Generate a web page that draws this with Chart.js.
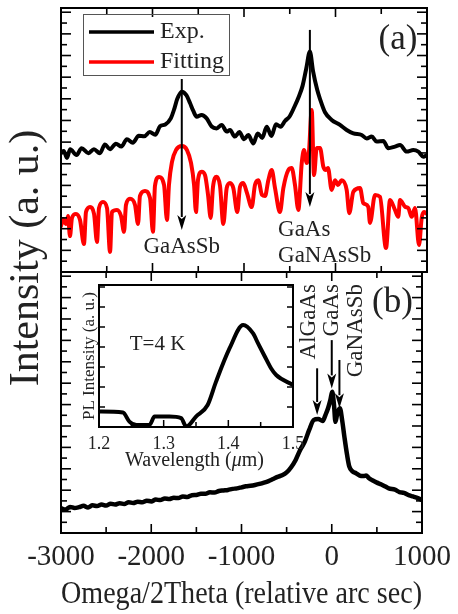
<!DOCTYPE html>
<html><head><meta charset="utf-8">
<script src="https://cdn.jsdelivr.net/npm/chart.js@4.4.0/dist/chart.umd.min.js"></script>
<style>
html,body{margin:0;padding:0;background:#fff;}
#wrap{position:relative;width:458px;height:614px;overflow:hidden;background:#fff;}
canvas{position:absolute;left:0;top:0;}
</style></head><body>
<div id="wrap">
<canvas id="ca" width="458" height="614"></canvas>
<canvas id="cb" width="458" height="614"></canvas>
<canvas id="ci" width="458" height="614"></canvas>
</div>
<script>
// ---------- data ----------
const xTickValues = [-3000, -2000, -1000, 0, 1000];
const insetTickValues = [1.2, 1.3, 1.4, 1.5];
const xTitle = 'Omega/2Theta (relative arc sec)';
const yTitle = 'Intensity (a. u.)';
const insetYTitle = 'PL Intensity (a. u.)';
const seriesLabels = ['Exp.', 'Fitting'];

// panel (a): experimental (black)
const aExp = [[-3000,45.0],[-2970,45.8],[-2935,43.2],[-2900,46.5],[-2830,44.3],[-2775,46.9],[-2700,45.0],[-2640,46.5],[-2575,45.0],[-2520,48.3],[-2464,46.5],[-2400,48.6],[-2340,47.5],[-2280,50.3],[-2215,49.0],[-2150,51.6],[-2090,51.4],[-2030,53.0],[-1970,52.0],[-1918,55.2],[-1860,55.9],[-1800,58.2],[-1760,62.0],[-1730,65.5],[-1681,68.3],[-1630,67.0],[-1590,64.0],[-1554,61.0],[-1517,58.8],[-1463,59.5],[-1408,58.2],[-1353,55.1],[-1299,54.4],[-1244,55.7],[-1189,53.2],[-1153,53.8],[-1100,51.3],[-1050,53.0],[-1000,50.3],[-953,51.9],[-898,48.7],[-850,52.5],[-800,50.8],[-752,55.0],[-700,51.5],[-650,56.0],[-600,55.0],[-552,57.2],[-500,59.0],[-450,62.5],[-400,66.5],[-360,70.5],[-320,77.0],[-280,83.5],[-245,76.0],[-200,69.0],[-169,65.5],[-115,60.5],[-42,57.6],[49,55.7],[122,53.8],[195,52.5],[286,51.9],[341,50.6],[396,51.3],[450,49.4],[523,49.6],[577,46.9],[650,47.5],[705,48.1],[778,45.6],[851,46.2],[905,45.6],[960,43.7],[1000,44.3]];

// panel (a): fitting (red)
const aFit = [[-3000,17.4],[-2978,20.1],[-2945,18.2],[-2923,21.2],[-2902,13.6],[-2880,20.5],[-2836,22.0],[-2792,19.7],[-2749,10.6],[-2727,22.7],[-2683,24.6],[-2639,22.0],[-2607,11.4],[-2585,24.2],[-2541,26.5],[-2497,24.2],[-2464,7.6],[-2443,22.7],[-2388,23.5],[-2344,21.2],[-2311,15.2],[-2290,25.4],[-2246,27.7],[-2191,25.4],[-2158,18.2],[-2137,28.8],[-2082,30.7],[-2027,28.0],[-1995,15.2],[-1973,32.6],[-1929,36.0],[-1874,33.0],[-1842,19.7],[-1820,33.0],[-1787,41.7],[-1743,46.2],[-1678,47.7],[-1623,46.2],[-1579,41.3],[-1546,33.0],[-1525,22.7],[-1503,34.8],[-1462,38.0],[-1426,36.7],[-1393,29.2],[-1364,20.5],[-1339,32.2],[-1298,36.1],[-1262,32.6],[-1226,18.2],[-1189,31.8],[-1153,33.7],[-1117,31.8],[-1073,22.7],[-1044,32.2],[-1008,33.7],[-967,29.9],[-916,24.6],[-880,33.0],[-844,34.8],[-803,29.2],[-770,28.8],[-734,34.8],[-697,38.6],[-661,31.8],[-607,22.7],[-570,31.8],[-516,38.6],[-479,39.4],[-443,33.0],[-406,23.5],[-369,41.3],[-344,46.2],[-315,41.3],[-290,45.5],[-260,61.4],[-235,36.7],[-205,47.0],[-169,47.0],[-133,39.9],[-104,38.6],[-82,39.4],[-42,31.1],[-5,34.8],[27,33.0],[68,34.8],[122,31.1],[151,22.3],[195,30.4],[268,31.8],[304,26.1],[358,24.7],[377,18.6],[432,29.2],[486,28.5],[552,9.1],[596,27.3],[650,23.5],[686,20.9],[705,27.3],[760,24.7],[796,24.2],[833,20.9],[869,24.2],[913,10.2],[942,20.5],[967,22.7],[1000,22.0]];

// panel (b): XRD
const bXrd = [[-3000,9.5],[-2950,9.0],[-2900,10.0],[-2850,9.6],[-2800,9.9],[-2750,10.4],[-2700,9.8],[-2650,10.6],[-2600,10.3],[-2550,10.9],[-2500,10.5],[-2450,11.2],[-2400,10.9],[-2350,11.4],[-2300,11.1],[-2250,11.8],[-2200,11.5],[-2150,12.0],[-2100,11.8],[-2050,12.4],[-2000,12.1],[-1950,12.8],[-1900,12.6],[-1850,13.2],[-1800,13.0],[-1750,13.5],[-1700,13.4],[-1650,14.0],[-1600,13.8],[-1550,14.5],[-1500,14.6],[-1450,15.0],[-1400,15.0],[-1350,15.6],[-1300,15.5],[-1250,16.1],[-1200,16.3],[-1150,16.5],[-1100,16.9],[-1050,17.1],[-1000,17.5],[-950,17.9],[-900,18.1],[-850,18.4],[-800,18.8],[-750,19.3],[-700,19.9],[-650,20.7],[-600,21.5],[-550,22.1],[-500,23.2],[-450,25.2],[-400,28.0],[-350,31.8],[-300,34.9],[-250,39.5],[-200,43.3],[-150,43.7],[-100,42.9],[-70,45.2],[-40,47.9],[-15,51.0],[5,54.1],[25,49.0],[41,42.6],[60,45.6],[90,47.8],[115,43.3],[140,36.9],[170,29.9],[195,25.4],[230,23.6],[268,22.9],[310,22.0],[350,21.8],[380,22.0],[413,21.0],[450,20.2],[500,19.3],[550,18.6],[600,17.7],[632,17.1],[700,16.6],[750,15.7],[800,15.4],[860,14.4],[900,14.0],[960,13.3],[1000,12.6]];

// inset: PL spectrum
const insetPL = [[1.200,0.77],[1.237,0.72],[1.247,0.27],[1.258,0.10],[1.278,0.10],[1.286,0.52],[1.309,0.52],[1.327,0.44],[1.335,0.02],[1.350,0.52],[1.368,1.10],[1.381,2.27],[1.402,3.94],[1.423,5.10],[1.438,4.69],[1.446,4.18],[1.456,3.55],[1.466,2.94],[1.474,2.60],[1.500,2.10]];

// annotations (data coordinates)
const arrowsA = [{x:-1680, from:73.1, to:15.9}, {x:-280, from:91.7, to:24.6}];
const labelsA = [
  {text:'GaAsSb', x:-1680, y:9.5, align:'center', size:23},
  {text:'GaAs', x:-628, y:16.1, align:'left', size:23},
  {text:'GaNAsSb', x:-628, y:6.2, align:'left', size:23},
  {text:'(a)', x:683, y:87.9, align:'center', size:35}
];
const arrowsB = [{x:-162, from:63.1, to:45.2}, {x:0, from:73.9, to:55.4}, {x:85, from:66.3, to:47.8}];
const vLabelsB = [{text:'AlGaAs', x:-257, y:95.4}, {text:'GaAs', x:5, y:95.4}, {text:'GaNAsSb', x:268, y:95.4}];
const labelsB = [{text:'(b)', x:672, y:88.1, align:'center', size:35}];
const insetLabel = {text:'T=4 K', x:1.2475, y:4.15};

// ---------- helpers ----------
const FONT = "'Liberation Serif','Times New Roman',serif";
const TXT = '#222';
const pts = arr => arr.map(p => ({x:p[0], y:p[1]}));

function line(ctx,x1,y1,x2,y2){ctx.beginPath();ctx.moveTo(x1,y1);ctx.lineTo(x2,y2);ctx.stroke();}
function arrow(ctx,x,y1,y2){
  const hl=15, hw=9;
  ctx.lineWidth=2; line(ctx,x,y1,x,y2-hl+2);
  ctx.beginPath(); ctx.moveTo(x-hw/2,y2-hl); ctx.lineTo(x,y2-hl+4); ctx.lineTo(x+hw/2,y2-hl); ctx.lineTo(x,y2); ctx.closePath(); ctx.fill();
}
function framePlugin(id,o){
  return {id, afterDatasetsDraw(chart){
    const {ctx, chartArea:a, scales} = chart; const x=scales.x, y=scales.y;
    ctx.save(); ctx.strokeStyle='#000'; ctx.lineWidth=o.tickW;
    const xs=[];
    o.xMajor.forEach((v,i)=>{ xs.push([v,true]); if(i<o.xMajor.length-1) xs.push([(v+o.xMajor[i+1])/2,false]); });
    xs.forEach(([v,maj])=>{ const px=x.getPixelForValue(v); const L=maj?o.xMajLen:o.xMinLen;
      if(o.bottom) line(ctx,px,a.bottom,px,a.bottom-L);
      if(o.top) line(ctx,px,a.top,px,a.top+L); });
    for(let i=0;;i++){ const v=y.min+i*o.yStep; if(v>y.max+1e-9) break;
      const py=y.getPixelForValue(v); const L=(i%2===0)?o.yMajLen:o.yMinLen;
      line(ctx,a.left,py,a.left+L,py); if(o.right) line(ctx,a.right,py,a.right-L,py); }
    ctx.lineWidth=o.frameW; ctx.strokeRect(a.left,a.top,a.right-a.left,a.bottom-a.top);
    ctx.restore();
  }};
}
const mainFrameOpts = {xMajor:xTickValues, xMajLen:9, xMinLen:6, yStep:4.1, yMajLen:10, yMinLen:6, tickW:1.6, frameW:2, top:true, bottom:true, right:true};

const annotA = {id:'annotA', afterDraw(chart){
  const {ctx, scales:{x,y}} = chart;
  ctx.save(); ctx.fillStyle='#000'; ctx.strokeStyle='#000';
  arrowsA.forEach(a=>arrow(ctx, x.getPixelForValue(a.x), y.getPixelForValue(a.from), y.getPixelForValue(a.to)));
  ctx.fillStyle=TXT; ctx.textBaseline='middle';
  labelsA.forEach(l=>{ ctx.font=l.size+'px '+FONT; ctx.textAlign=l.align; ctx.fillText(l.text, x.getPixelForValue(l.x), y.getPixelForValue(l.y)); });
  // legend
  const lg={left:83, top:14, w:146, h:61};
  ctx.strokeStyle='#555'; ctx.lineWidth=1; ctx.strokeRect(lg.left+0.5, lg.top+0.5, lg.w, lg.h);
  chart.data.datasets.forEach((ds,i)=>{
    const yy = lg.top + 18 + i*30;
    ctx.strokeStyle=ds.borderColor; ctx.lineWidth=3.5; line(ctx, lg.left+6, yy, lg.left+71, yy);
    ctx.fillStyle=TXT; ctx.font='24px '+FONT; ctx.textAlign='left'; ctx.fillText(ds.label, lg.left+77, yy);
  });
  ctx.restore();
}};

const annotB = {id:'annotB', afterDraw(chart){
  const {ctx, scales:{x,y}} = chart;
  ctx.save(); ctx.fillStyle='#000'; ctx.strokeStyle='#000';
  arrowsB.forEach(a=>arrow(ctx, x.getPixelForValue(a.x), y.getPixelForValue(a.from), y.getPixelForValue(a.to)));
  ctx.fillStyle=TXT; ctx.textBaseline='middle';
  vLabelsB.forEach(l=>{ ctx.save(); ctx.translate(x.getPixelForValue(l.x), y.getPixelForValue(l.y)); ctx.rotate(-Math.PI/2);
    ctx.font='23px '+FONT; ctx.textAlign='right'; ctx.fillText(l.text,0,0); ctx.restore(); });
  labelsB.forEach(l=>{ ctx.font=l.size+'px '+FONT; ctx.textAlign=l.align; ctx.fillText(l.text, x.getPixelForValue(l.x), y.getPixelForValue(l.y)); });
  // shared y title
  ctx.save(); ctx.translate(27, 258); ctx.rotate(-Math.PI/2); ctx.font='42px '+FONT; ctx.textAlign='center'; ctx.fillText(yTitle,0,0); ctx.restore();
  ctx.restore();
}};

const annotI = {id:'annotI', afterDraw(chart){
  const {ctx, chartArea:a, scales:{x,y}} = chart;
  ctx.save(); ctx.fillStyle=TXT; ctx.textBaseline='middle';
  ctx.font='21px '+FONT; ctx.textAlign='left';
  ctx.fillText(insetLabel.text, x.getPixelForValue(insetLabel.x), y.getPixelForValue(insetLabel.y));
  // x title with italic mu
  const parts=[['Wavelength (','20px '+FONT],['\u03bc','italic 20px '+FONT],['m)','20px '+FONT]];
  let tw=0; parts.forEach(p=>{ctx.font=p[1]; tw+=ctx.measureText(p[0]).width;});
  let cx=(a.left+a.right)/2 - tw/2 - 1.5;
  parts.forEach(p=>{ctx.font=p[1]; ctx.fillText(p[0],cx,461); cx+=ctx.measureText(p[0]).width;});
  ctx.restore();
}};

const common = {responsive:false, animation:false, events:[], devicePixelRatio:1,
  plugins:{legend:{display:false}, tooltip:{enabled:false}}};
const lineDs = (label,data,color,w) => ({label, data:pts(data), borderColor:color, borderWidth:w, pointRadius:0,
  cubicInterpolationMode:'monotone', borderJoinStyle:'round', borderCapStyle:'round', fill:false});

// ---------- panel (a) ----------
new Chart(document.getElementById('ca'), {
  type:'line',
  data:{datasets:[lineDs(seriesLabels[0], aExp, '#000000', 4), lineDs(seriesLabels[1], aFit, '#ff0000', 4)]},
  options:Object.assign({}, common, {
    layout:{padding:{left:61, right:31, top:8, bottom:342}},
    scales:{x:{type:'linear', min:-3000, max:1000, display:false}, y:{min:0, max:100, display:false}}
  }),
  plugins:[framePlugin('frameA', mainFrameOpts), annotA]
});

// ---------- panel (b) ----------
new Chart(document.getElementById('cb'), {
  type:'line',
  data:{datasets:[lineDs('XRD', bXrd, '#000000', 4.5)]},
  options:Object.assign({}, common, {
    layout:{padding:{left:61, right:31, top:272, bottom:0}},
    scales:{
      x:{type:'linear', min:-3000, max:1000,
        grid:{display:false, drawTicks:false}, border:{display:false},
        ticks:{stepSize:1000, autoSkip:false, maxRotation:0, padding:7, color:TXT, font:{family:FONT, size:29}, callback:v=>String(v)},
        title:{display:true, text:xTitle, color:TXT, font:{family:FONT, size:32, lineHeight:1.2}, padding:{top:0, bottom:0}},
        afterFit:s=>{s.height=81;}},
      y:{min:0, max:100, display:false}
    }
  }),
  plugins:[framePlugin('frameB', mainFrameOpts), annotB]
});

// ---------- inset ----------
new Chart(document.getElementById('ci'), {
  type:'line',
  data:{datasets:[lineDs('PL', insetPL, '#000000', 4)]},
  options:Object.assign({}, common, {
    layout:{padding:{left:79, right:165, top:285, bottom:147}},
    scales:{
      x:{type:'linear', min:1.2, max:1.5,
        grid:{display:false, drawTicks:false}, border:{display:false},
        afterBuildTicks:s=>{ s.ticks = insetTickValues.map(v=>({value:v})); },
        ticks:{autoSkip:false, maxRotation:0, padding:6, color:TXT, font:{family:FONT, size:18}, callback:v=>Number(v).toFixed(1)},
        afterFit:s=>{s.height=40;}},
      y:{min:0, max:7.1, grid:{display:false, drawTicks:false}, border:{display:false}, ticks:{display:false},
        title:{display:true, text:insetYTitle, color:TXT, font:{family:FONT, size:17, lineHeight:1.2}, padding:0},
        afterFit:s=>{s.width=20;}}
    }
  }),
  plugins:[framePlugin('frameI', {xMajor:insetTickValues, xMajLen:7, xMinLen:5, yStep:1, yMajLen:6, yMinLen:6, tickW:1.5, frameW:2, top:false, bottom:true, right:true}), annotI]
});
</script>
</body></html>
